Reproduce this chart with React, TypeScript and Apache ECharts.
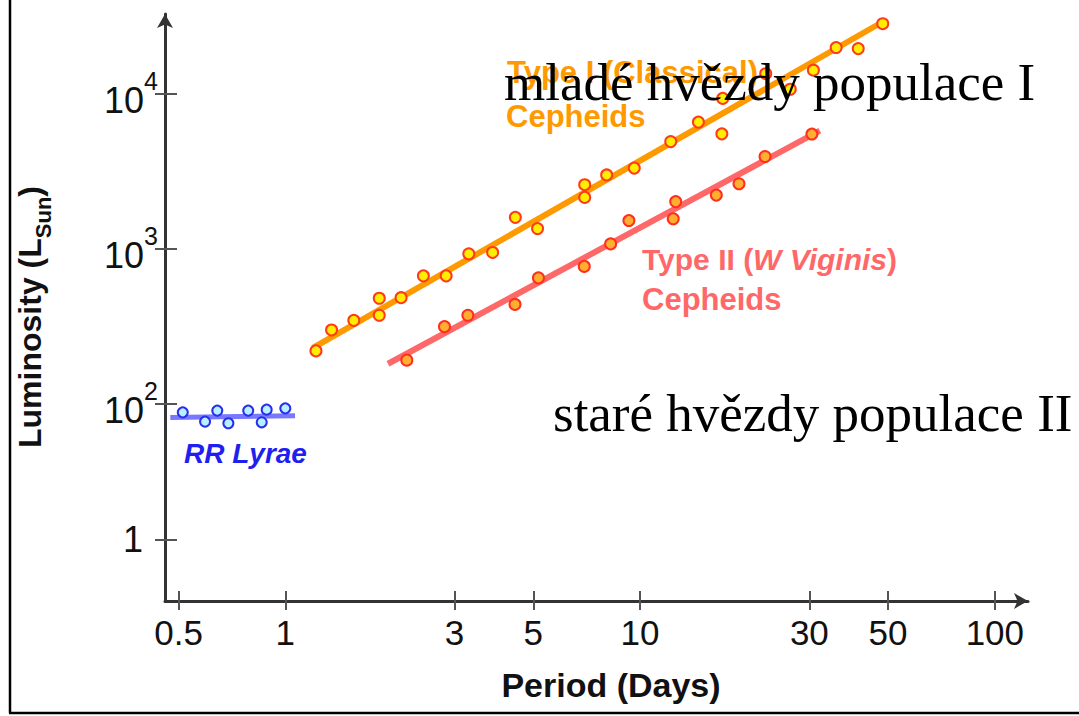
import React, { useEffect, useRef } from 'react';
import * as echarts from 'echarts';

// ---------- data ----------
const xTickValues = [0.5, 1, 3, 5, 10, 30, 50, 100];
const xTickLabels = ['0.5', '1', '3', '5', '10', '30', '50', '100'];
const yTickValues = [13.3, 100, 1000, 10000];
const yTickLabels = ['{o|1}', '{b|10}{s|2}', '{b|10}{s|3}', '{b|10}{s|4}'];

const typeIPeriod = [1.22, 1.35, 1.56, 1.84, 1.84, 2.12, 2.45, 2.84, 3.29, 3.84, 4.45, 5.14, 6.98, 6.98, 8.05, 9.63, 12.2, 14.6, 17.0, 17.1, 22.6, 26.5, 30.8, 35.7, 41.2, 48.3];
const typeILum = [219, 299, 345, 479, 372, 483, 668, 668, 927, 946, 1594, 1349, 2588, 2143, 2993, 3312, 4910, 6560, 5510, 9330, 13460, 10690, 14190, 19870, 19550, 28300];

const typeIIPeriod = [2.2, 2.81, 3.27, 4.44, 5.17, 6.96, 8.26, 9.3, 12.4, 12.6, 16.4, 19.0, 22.5, 30.5];
const typeIILum = [191, 314, 372, 437, 648, 769, 1074, 1520, 1560, 2013, 2218, 2625, 3935, 5496];

const rrPeriod = [0.514, 0.594, 0.643, 0.691, 0.786, 0.858, 0.886, 1.0];
const rrLum = [87.9, 76.6, 90.2, 74.7, 90.2, 75.8, 91.5, 93.3];

const typeIFitPeriod = [1.196, 47.1];
const typeIFitLum = [229, 28180];
const typeIIFitPeriod = [1.948, 32.1];
const typeIIFitLum = [181, 5780];
const rrFitPeriod = [0.474, 1.065];
const rrFitLum = [81.3, 83.7];

const X_MIN = 0.458;
const X_MAX = 124;
const Y_MIN = 5.33;
const Y_MAX = 32700;

// ---------- style ----------
const FONT_SANS = "'Liberation Sans', Arial, sans-serif";
const FONT_SERIF = "'Liberation Serif', 'Times New Roman', serif";

const zip = (a: number[], b: number[]) => a.map((v, i) => [v, b[i]]);

function findIdx(arr: number[], v: number) {
  let best = 0;
  let bd = Infinity;
  arr.forEach((a, i) => {
    const d = Math.abs(Math.log10(a) - Math.log10(v));
    if (d < bd) { bd = d; best = i; }
  });
  return best;
}

const axisLineStyle = { color: '#333', width: 3 };
const tickStyle = { color: '#555', width: 2 };

export default function App() {
  const ref = useRef<HTMLDivElement>(null);
  useEffect(() => {
    const chart = echarts.init(ref.current!, null, { renderer: 'svg' });
    const xCommon: any = { type: 'log', logBase: 10, min: X_MIN, max: X_MAX, position: 'bottom', splitLine: { show: false } };
    const yCommon: any = { type: 'log', logBase: 10, min: Y_MIN, max: Y_MAX, position: 'left', splitLine: { show: false } };
    const option: any = {
      animation: false,
      backgroundColor: '#fff',
      grid: { left: 165, right: 51, top: 14, bottom: 115, containLabel: false },
      xAxis: [
        {
          ...xCommon,
          axisLine: { show: true, symbol: ['none', 'arrow'], symbolSize: [12, 14], lineStyle: axisLineStyle },
          axisTick: { show: true, customValues: xTickValues, inside: false, length: 9, lineStyle: tickStyle },
          axisLabel: {
            customValues: xTickValues,
            formatter: (v: number) => xTickLabels[findIdx(xTickValues, v)],
            margin: 14,
            fontSize: 35,
            lineHeight: 35,
            fontFamily: FONT_SANS,
            color: '#111',
          },
        },
        {
          ...xCommon,
          axisLine: { show: false },
          axisTick: { show: true, customValues: xTickValues, inside: true, length: 10, lineStyle: tickStyle },
          axisLabel: { show: false },
        },
      ],
      yAxis: [
        {
          ...yCommon,
          axisLine: { show: true, symbol: ['none', 'arrow'], symbolSize: [12, 14], lineStyle: axisLineStyle },
          axisTick: { show: true, customValues: yTickValues, inside: false, length: 10, lineStyle: tickStyle },
          axisLabel: {
            customValues: yTickValues,
            formatter: (v: number) => yTickLabels[findIdx(yTickValues, v)],
            margin: 7,
            color: '#111',
            rich: {
              b: { fontSize: 36, lineHeight: 50, fontFamily: FONT_SANS, color: '#111', verticalAlign: 'bottom' },
              s: { fontSize: 25, lineHeight: 25, fontFamily: FONT_SANS, color: '#111', verticalAlign: 'top' },
              o: { fontSize: 36, lineHeight: 50, fontFamily: FONT_SANS, color: '#111', padding: [0, 15, 0, 0] },
            },
          },
        },
        {
          ...yCommon,
          axisLine: { show: false },
          axisTick: { show: true, customValues: yTickValues, inside: true, length: 12, lineStyle: tickStyle },
          axisLabel: { show: false },
        },
      ],
      series: [
        { type: 'line', data: zip(typeIFitPeriod, typeIFitLum), symbol: 'none', lineStyle: { color: '#ff9900', width: 6 }, silent: true, z: 2 },
        { type: 'line', data: zip(typeIIFitPeriod, typeIIFitLum), symbol: 'none', lineStyle: { color: '#ff6868', width: 6 }, silent: true, z: 2 },
        { type: 'line', data: zip(rrFitPeriod, rrFitLum), symbol: 'none', lineStyle: { color: '#7878ff', width: 5 }, silent: true, z: 2 },
        { type: 'scatter', data: zip(typeIPeriod, typeILum), symbolSize: 11, itemStyle: { color: '#ffee00', borderColor: '#ff3a1a', borderWidth: 2, opacity: 1 }, z: 3 },
        { type: 'scatter', data: zip(typeIIPeriod, typeIILum), symbolSize: 11, itemStyle: { color: '#ffae30', borderColor: '#ff2e1e', borderWidth: 2, opacity: 1 }, z: 3 },
        { type: 'scatter', data: zip(rrPeriod, rrLum), symbolSize: 10, itemStyle: { color: '#b4f2ff', borderColor: '#2c2cf0', borderWidth: 2, opacity: 1 }, z: 3 },
      ],
      graphic: [
        { type: 'line', shape: { x1: 10, y1: 0, x2: 10, y2: 713 }, style: { stroke: '#000', lineWidth: 2.5 }, z: 1 },
        { type: 'line', shape: { x1: 9, y1: 713, x2: 1079, y2: 713 }, style: { stroke: '#000', lineWidth: 2.5 }, z: 1 },
        {
          type: 'text', x: 34, y: 317, rotation: Math.PI / 2, z: 10,
          style: {
            text: '{a|Luminosity (L}{s|Sun}{a|)}',
            textAlign: 'center', textVerticalAlign: 'middle',
            rich: {
              a: { fontSize: 32, fontWeight: 'bold', fontFamily: FONT_SANS, fill: '#111', lineHeight: 40, verticalAlign: 'top' },
              s: { fontSize: 22, fontWeight: 'bold', fontFamily: FONT_SANS, fill: '#111', lineHeight: 24, verticalAlign: 'bottom' },
            },
          },
        },
        {
          type: 'text', x: 611, y: 685, z: 10,
          style: { text: 'Period (Days)', font: `bold 34px ${FONT_SANS}`, fill: '#111', textAlign: 'center', textVerticalAlign: 'middle' },
        },
        {
          type: 'text', x: 507, y: 72, z: 50,
          style: { text: 'Type I (Classical)', font: `bold 31px ${FONT_SANS}`, fill: '#ff9900', textAlign: 'left', textVerticalAlign: 'middle' },
        },
        {
          type: 'text', x: 506, y: 116, z: 50,
          style: { text: 'Cepheids', font: `bold 31px ${FONT_SANS}`, fill: '#ff9900', textAlign: 'left', textVerticalAlign: 'middle' },
        },
        {
          type: 'text', x: 642, y: 259, z: 50,
          style: {
            text: '{n|Type II (}{i|W Viginis}{n|)}',
            textAlign: 'left', textVerticalAlign: 'middle',
            rich: {
              n: { fontSize: 30, fontWeight: 'bold', fontFamily: FONT_SANS, fill: '#ff6868' },
              i: { fontSize: 30, fontWeight: 'bold', fontStyle: 'italic', fontFamily: FONT_SANS, fill: '#ff6868' },
            },
          },
        },
        {
          type: 'text', x: 642, y: 299, z: 50,
          style: { text: 'Cepheids', font: `bold 31px ${FONT_SANS}`, fill: '#ff6868', textAlign: 'left', textVerticalAlign: 'middle' },
        },
        {
          type: 'text', x: 184, y: 453.5, z: 50,
          style: { text: 'RR Lyrae', font: `italic bold 28px ${FONT_SANS}`, fill: '#1f1ff0', textAlign: 'left', textVerticalAlign: 'middle' },
        },
        {
          type: 'text', x: 504, y: 82, z: 100,
          style: { text: 'mladé hvězdy populace I', font: `53px ${FONT_SERIF}`, fill: '#000', textAlign: 'left', textVerticalAlign: 'middle' },
        },
        {
          type: 'text', x: 553, y: 413, z: 100,
          style: { text: 'staré hvězdy populace II', font: `53px ${FONT_SERIF}`, fill: '#000', textAlign: 'left', textVerticalAlign: 'middle' },
        },
      ],
    };
    chart.setOption(option);
    return () => chart.dispose();
  }, []);
  return <div ref={ref} style={{ position: 'fixed', left: 0, top: 0, width: 1079, height: 716, background: '#fff' }} />;
}
